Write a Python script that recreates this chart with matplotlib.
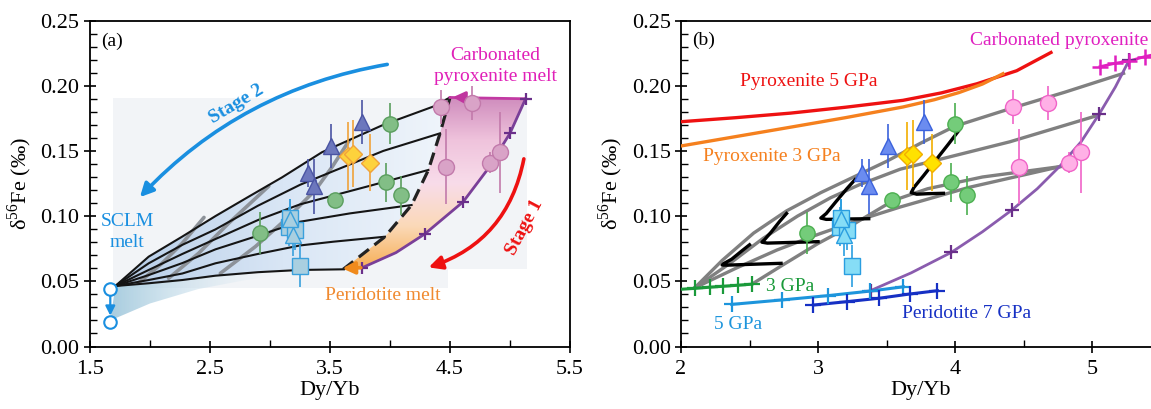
import numpy as np
import matplotlib.pyplot as plt
from matplotlib.path import Path
from matplotlib.patches import PathPatch, FancyArrowPatch
from matplotlib.colors import LinearSegmentedColormap
from matplotlib.ticker import MultipleLocator, FixedLocator, FormatStrFormatter

plt.rcParams['font.family'] = ['Liberation Serif', 'DejaVu Serif']
plt.rcParams['mathtext.fontset'] = 'custom'
plt.rcParams['mathtext.rm'] = 'Liberation Serif'

# ---- samples (same in both panels) ----
pink_x = [4.425, 4.68, 4.47, 4.83, 4.92]
pink_y = [0.184, 0.187, 0.138, 0.141, 0.149]
pink_e = [0.013, 0.013, 0.029, 0.008, 0.031]

green_x = [2.92, 3.54, 4.00, 3.97, 4.09]
green_y = [0.087, 0.112, 0.171, 0.126, 0.116]
green_e = [0.016, 0.005, 0.016, 0.015, 0.015]

tri_x = [3.51, 3.77, 3.32, 3.37]
tri_y = [0.154, 0.172, 0.133, 0.123]
tri_e = [0.017, 0.017, 0.011, 0.021]

ltri_x = [3.17, 3.19]
ltri_y = [0.0975, 0.0855]
ltri_e = [0.016, 0.016]

sq_x = [3.16, 3.21, 3.17, 3.25]
sq_y = [0.092, 0.089, 0.0985, 0.062]
sq_e = [0.015, 0.015, 0.015, 0.016]

dia_x = [3.65, 3.69, 3.83]
dia_y = [0.146, 0.148, 0.141]
dia_e = [0.026, 0.026, 0.022]

sclm_x = [1.669, 1.669]
sclm_y = [0.0441, 0.019]

# ---- panel (a) model ----
lines_a = [
    ([1.711, 1.989, 2.267, 2.545, 2.822, 3.1, 3.433, 3.944, 4.36, 4.50],
     [0.0464, 0.0689, 0.0842, 0.100, 0.1149, 0.1297, 0.149, 0.170, 0.184, 0.191]),
    ([1.711, 1.989, 2.27, 2.545, 2.9, 3.25, 3.528, 3.944, 4.417],
     [0.0464, 0.0638, 0.078, 0.0898, 0.108, 0.124, 0.1345, 0.150, 0.1635]),
    ([1.711, 1.989, 2.27, 2.545, 2.9, 3.25, 3.806, 4.32],
     [0.0464, 0.0587, 0.071, 0.0824, 0.097, 0.109, 0.1226, 0.1354]),
    ([1.711, 1.989, 2.27, 2.545, 2.9, 3.25, 3.667, 4.18],
     [0.0464, 0.0548, 0.064, 0.0745, 0.085, 0.0957, 0.1021, 0.1085]),
    ([1.711, 1.989, 2.27, 2.545, 2.9, 3.25, 3.53, 3.958],
     [0.0464, 0.051, 0.056, 0.0638, 0.071, 0.0775, 0.0804, 0.0842]),
    ([1.711, 1.989, 2.27, 2.545, 2.9, 3.25, 3.61],
     [0.0464, 0.0485, 0.051, 0.0543, 0.057, 0.0587, 0.0592]),
]
dash_x = [3.61, 3.958, 4.18, 4.32, 4.417, 4.50]
dash_y = [0.0592, 0.0842, 0.1085, 0.1354, 0.1635, 0.191]

arcs_a = [
    ([1.90, 2.10, 2.267, 2.45], [0.0485, 0.0638, 0.079, 0.099]),
    ([2.155, 2.405, 2.655, 2.99], [0.0523, 0.0715, 0.0945, 0.123]),
    ([2.586, 2.878, 3.156, 3.378, 3.52, 3.66], [0.0561, 0.0766, 0.0995, 0.120, 0.138, 0.158]),
]

purple_a_x = [3.77, 4.05, 4.29, 4.61, 4.81, 5.00, 5.13]
purple_a_y = [0.0605, 0.072, 0.0863, 0.111, 0.1354, 0.1635, 0.190]
purple_a_tick = [0, 2, 3, 5, 6]
carb_a_x = [4.50, 4.80, 5.13]
carb_a_y = [0.191, 0.1905, 0.190]

wedge_x = [1.711, 1.67, 2.0, 2.4, 2.8, 3.3, 2.9, 2.545, 2.27, 1.989]
wedge_y = [0.0464, 0.020, 0.033, 0.044, 0.051, 0.0578, 0.057, 0.0543, 0.051, 0.0485]

# ---- panel (b) model ----
pyx5_x = [2.0, 2.4, 2.8, 3.2, 3.62, 3.9, 4.16, 4.45, 4.70]
pyx5_y = [0.1724, 0.1755, 0.179, 0.1835, 0.1888, 0.1945, 0.2015, 0.2115, 0.2255]
pyx3_x = [2.0, 2.4, 2.81, 3.2, 3.62, 3.85, 4.03, 4.2, 4.35]
pyx3_y = [0.1538, 0.161, 0.1684, 0.1755, 0.1837, 0.1893, 0.1948, 0.2013, 0.2092]

gpa3_x = [2.0, 2.102, 2.212, 2.309, 2.418, 2.516]
gpa3_y = [0.0439, 0.0446, 0.0455, 0.0462, 0.0470, 0.0478]
gpa5_x = [2.37, 2.735, 3.07, 3.38, 3.623]
gpa5_y = [0.0323, 0.0357, 0.039, 0.0425, 0.0458]
gpa7_x = [2.966, 3.21, 3.445, 3.672, 3.871]
gpa7_y = [0.0318, 0.0344, 0.037, 0.0403, 0.0428]

purple_b_x = [3.384, 3.68, 3.973, 4.2, 4.414, 4.6, 4.766, 4.92, 5.054, 5.17, 5.272]
purple_b_y = [0.0429, 0.0565, 0.0722, 0.088, 0.1046, 0.121, 0.1384, 0.157, 0.1786, 0.199, 0.2199]
purple_b_tick = [0, 2, 4, 8, 10]
carb_b_x = [5.058, 5.168, 5.272, 5.387, 5.45]
carb_b_y = [0.2146, 0.2172, 0.219, 0.2224, 0.2238]

gray_b = [
    ([2.10, 2.30, 2.53, 2.77, 3.02, 3.26, 3.50, 3.75, 4.00, 4.42, 4.80, 5.23],
     [0.045, 0.066, 0.087, 0.104, 0.118, 0.130, 0.142, 0.156, 0.169, 0.183, 0.195, 0.2095]),
    ([2.10, 2.36, 2.60, 2.85, 3.09, 3.30, 3.60, 3.83, 4.40, 5.05],
     [0.045, 0.064, 0.083, 0.100, 0.114, 0.124, 0.136, 0.142, 0.157, 0.1775]),
    ([2.10, 2.40, 2.70, 3.00, 3.30, 3.60, 4.10, 4.77],
     [0.045, 0.060, 0.074, 0.086, 0.097, 0.107, 0.122, 0.138]),
    ([2.52, 2.75, 3.00, 3.23, 3.55, 3.80, 4.20, 4.77],
     [0.048, 0.063, 0.079, 0.092, 0.112, 0.121, 0.130, 0.138]),
]
zig_b = [
    ([2.50, 2.44, 2.37, 2.31, 2.30, 2.34, 2.50, 2.73],
     [0.078, 0.073, 0.067, 0.0635, 0.0625, 0.0624, 0.063, 0.0638]),
    ([2.77, 2.72, 2.66, 2.61, 2.59, 2.63, 2.80, 3.00],
     [0.102, 0.096, 0.088, 0.082, 0.0800, 0.0793, 0.0798, 0.0804]),
    ([3.27, 3.21, 3.13, 3.06, 3.02, 3.06, 3.22, 3.37],
     [0.128, 0.121, 0.111, 0.102, 0.0985, 0.0975, 0.0978, 0.098]),
    ([4.03, 3.95, 3.86, 3.77, 3.70, 3.68, 3.72, 3.80, 3.915],
     [0.166, 0.155, 0.143, 0.131, 0.122, 0.118, 0.1168, 0.1172, 0.1175]),
]


def grad_fill(ax, xs, ys, colors, horizontal=True, z=1):
    verts = np.column_stack([xs, ys])
    patch = PathPatch(Path(np.vstack([verts, verts[:1]]), closed=True),
                      facecolor='none', edgecolor='none')
    ax.add_patch(patch)
    cmap = LinearSegmentedColormap.from_list('g', colors)
    arr = np.linspace(0, 1, 256)
    arr = arr.reshape(1, -1) if horizontal else arr.reshape(-1, 1)
    im = ax.imshow(arr, extent=[min(xs), max(xs), min(ys), max(ys)], origin='lower',
                   aspect='auto', cmap=cmap, zorder=z, interpolation='bicubic')
    im.set_clip_path(patch)


def samples(ax, st):
    sets = [
        (green_x, green_y, green_e, 'o', 11, 'green'),
        (pink_x, pink_y, pink_e, 'o', 11.5, 'pink'),
        (sq_x, sq_y, sq_e, 's', 11, 'light'),
        (ltri_x, ltri_y, ltri_e, '^', 12, 'light'),
        (tri_x, tri_y, tri_e, '^', 12, 'tri'),
        (dia_x, dia_y, dia_e, 'D', 9, 'dia'),
    ]
    for x, y, e, m, ms, key in sets:
        fc, ec = st[key]
        ax.errorbar(x, y, yerr=e, fmt='none', ecolor=ec, elinewidth=1.2, capsize=0, zorder=6)
        ax.plot(x, y, m, ms=ms, mfc=fc, mec=ec, mew=1.0, zorder=7, ls='none')


def style(ax, xmin, xfmt):
    ax.set_ylim(0, 0.25)
    ax.xaxis.set_minor_locator(MultipleLocator(xmin))
    ax.yaxis.set_major_locator(MultipleLocator(0.05))
    ax.yaxis.set_minor_locator(MultipleLocator(0.01))
    ax.xaxis.set_major_formatter(FormatStrFormatter(xfmt))
    ax.yaxis.set_major_formatter(FormatStrFormatter('%.2f'))
    ax.tick_params(which='major', direction='inout', length=9, width=1.2, labelsize=16, pad=3)
    ax.tick_params(which='minor', direction='in', length=5, width=1.0)
    ax.tick_params(axis='x', which='major', pad=5)
    for s in ax.spines.values():
        s.set_linewidth(1.3)
    ax.set_xlabel('Dy/Yb', fontsize=16, labelpad=2)
    ax.set_ylabel(r'δ$^{\mathrm{56}}$Fe (‰)', fontsize=16, labelpad=5)


fig = plt.figure(figsize=(11.51, 4.09), dpi=100)

# ================= panel (a) =================
ax = fig.add_axes([0.0782, 0.1528, 0.417, 0.797])
ax.fill([1.695, 5.145, 5.145, 4.48, 4.48, 1.695],
        [0.1907, 0.1907, 0.0598, 0.0598, 0.0445, 0.0445], color='#f2f4f7', lw=0, zorder=0)

# blue fan between lowest and highest mixing line
fan_px = lines_a[5][0] + dash_x[1:] + lines_a[0][0][::-1][1:]
fan_py = lines_a[5][1] + dash_y[1:] + lines_a[0][1][::-1][1:]
grad_fill(ax, fan_px, fan_py, ['#b6cde8', '#d9e6f5', '#f0f5fb'], z=1)
grad_fill(ax, wedge_x, wedge_y, [(0.62, 0.78, 0.86, 0.9), (0.80, 0.88, 0.93, 0.5), (1, 1, 1, 0)], z=1)

# carbonated pyroxenite -> peridotite field
pk_x = dash_x + carb_a_x[1:] + purple_a_x[::-1][1:]
pk_y = dash_y + carb_a_y[1:] + purple_a_y[::-1][1:]
grad_fill(ax, pk_x, pk_y, ['#f6ae55', '#fbd9b8', '#f8dcea', '#efc3dc', '#cf8cbd'],
          horizontal=False, z=1)

for lx, ly in lines_a:
    ax.plot(lx, ly, color='#151515', lw=1.5, zorder=3)
for gx, gy in arcs_a:
    ax.plot(gx, gy, color='#8d9299', lw=2.6, zorder=2.5, solid_capstyle='round')
ax.plot(dash_x, dash_y, color='#222222', lw=2.3, ls=(0, (4, 2.2)), zorder=3)
ax.plot(purple_a_x, purple_a_y, color='#7a3f98', lw=2.0, zorder=3)
ax.plot([purple_a_x[i] for i in purple_a_tick], [purple_a_y[i] for i in purple_a_tick],
        '+', color='#6a2f8a', ms=9, mew=1.6, zorder=4)
ax.plot(carb_a_x, carb_a_y, color='#c23aa3', lw=2.0, zorder=3)
ax.annotate('', xy=(4.50, 0.1912), xytext=(4.66, 0.1907),
            arrowprops=dict(arrowstyle='-|>', color='#c0359f', lw=2.2, mutation_scale=18), zorder=5)
ax.annotate('', xy=(3.58, 0.0598), xytext=(3.78, 0.0605),
            arrowprops=dict(arrowstyle='-|>', color='#f08a1c', lw=2.6, mutation_scale=18), zorder=5)

# SCLM end-members
ax.annotate('', xy=(sclm_x[1], 0.0215), xytext=(sclm_x[0], 0.041),
            arrowprops=dict(arrowstyle='-|>', color='#1a8fe0', lw=1.6, mutation_scale=14), zorder=5)
ax.plot(sclm_x, sclm_y, 'o', ms=9, mfc='white', mec='#1a8fe0', mew=1.5, zorder=6)

samples(ax, {
    'green': ('#82be86', '#5a9e5e'), 'pink': ('#d9a3c7', '#c27aab'),
    'light': ('#a9cfe0', '#3aa0dc'), 'tri': ('#6c77bd', '#4a54a3'),
    'dia': ('#fdd23c', '#f0a23a')})

ax.add_patch(FancyArrowPatch((4.0, 0.2167), (1.90, 0.113), connectionstyle='arc3,rad=0.17',
                             arrowstyle='-|>', mutation_scale=20, lw=2.6, color='#1a8fe0', zorder=5))
ax.add_patch(FancyArrowPatch((5.12, 0.146), (4.30, 0.060), connectionstyle='arc3,rad=-0.3',
                             arrowstyle='-|>', mutation_scale=20, lw=2.6, color='#ee1111', zorder=5))

ax.text(1.59, 0.234, '(a)', fontsize=14, va='center', ha='left')
ax.text(4.88, 0.2235, 'Carbonated', fontsize=14, color='#e020b8', ha='center', va='center')
ax.text(4.88, 0.207, 'pyroxenite melt', fontsize=14, color='#e020b8', ha='center', va='center')
ax.text(2.72, 0.186, 'Stage 2', fontsize=14, color='#1a8fe0', fontweight='bold',
        rotation=31, ha='center', va='center')
ax.text(5.12, 0.091, 'Stage 1', fontsize=14, color='#ee1111', fontweight='bold',
        rotation=62, ha='center', va='center')
ax.text(1.81, 0.0955, 'SCLM', fontsize=14, color='#1a8fe0', ha='center', va='center')
ax.text(1.81, 0.080, 'melt', fontsize=14, color='#1a8fe0', ha='center', va='center')
ax.text(3.94, 0.0395, 'Peridotite melt', fontsize=14, color='#f08a30', ha='center', va='center')

ax.set_xlim(1.5, 5.5)
ax.xaxis.set_major_locator(FixedLocator([1.5, 2.5, 3.5, 4.5, 5.5]))
style(ax, 0.5, '%.1f')

# ================= panel (b) =================
bx = fig.add_axes([0.5917, 0.1528, 0.4166, 0.797])
bx.plot(pyx5_x, pyx5_y, color='#ee1111', lw=2.4, zorder=3)
bx.plot(pyx3_x, pyx3_y, color='#f5801e', lw=2.4, zorder=3)

for gx, gy in gray_b:
    bx.plot(gx, gy, color='#808080', lw=2.4, zorder=2)
for zx, zy in zig_b:
    bx.plot(zx, zy, color='black', lw=2.4, zorder=3)

bx.plot(purple_b_x, purple_b_y, color='#8a5cae', lw=2.0, zorder=3)
bx.plot([purple_b_x[i] for i in purple_b_tick], [purple_b_y[i] for i in purple_b_tick],
        '+', color='#6a2f8a', ms=10, mew=1.6, zorder=4)
bx.plot(carb_b_x, carb_b_y, color='#e020c0', lw=2.0, zorder=3)
bx.plot(carb_b_x[:-1], carb_b_y[:-1], '+', color='#e020c0', ms=11, mew=1.8, zorder=4)

bx.plot(gpa3_x, gpa3_y, color='#1a9a3a', lw=2.2, zorder=3)
bx.plot(gpa3_x[1:], gpa3_y[1:], '+', color='#1a9a3a', ms=11, mew=1.6, zorder=4)
bx.plot(gpa5_x, gpa5_y, color='#1d95dc', lw=2.2, zorder=3)
bx.plot(gpa5_x, gpa5_y, '+', color='#1d95dc', ms=11, mew=1.6, zorder=4)
bx.plot(gpa7_x, gpa7_y, color='#1630c4', lw=2.2, zorder=3)
bx.plot(gpa7_x, gpa7_y, '+', color='#1630c4', ms=11, mew=1.6, zorder=4)

samples(bx, {
    'green': ('#74cc7a', '#4caf50'), 'pink': ('#ffb0e6', '#f064c8'),
    'light': ('#86ddf6', '#2a9ee0'), 'tri': ('#6b8cf0', '#3b62dc'),
    'dia': ('#ffe200', '#f2ae00')})

bx.text(2.08, 0.235, '(b)', fontsize=14, va='center', ha='left')
bx.text(2.43, 0.2035, 'Pyroxenite 5 GPa', fontsize=14, color='#ee1111', va='center')
bx.text(2.16, 0.1455, 'Pyroxenite 3 GPa', fontsize=14, color='#f5801e', va='center')
bx.text(2.62, 0.046, '3 GPa', fontsize=14, color='#1a9a3a', va='center')
bx.text(2.24, 0.0165, '5 GPa', fontsize=14, color='#1d95dc', va='center')
bx.text(3.61, 0.0255, 'Peridotite 7 GPa', fontsize=14, color='#1630c4', va='center')
bx.text(4.11, 0.2345, 'Carbonated pyroxenite', fontsize=14, color='#e020c0', va='center')

bx.set_xlim(2, 5.5)
bx.xaxis.set_major_locator(MultipleLocator(1.0))
style(bx, 0.5, '%d')

fig.savefig('out.png', dpi=100)
